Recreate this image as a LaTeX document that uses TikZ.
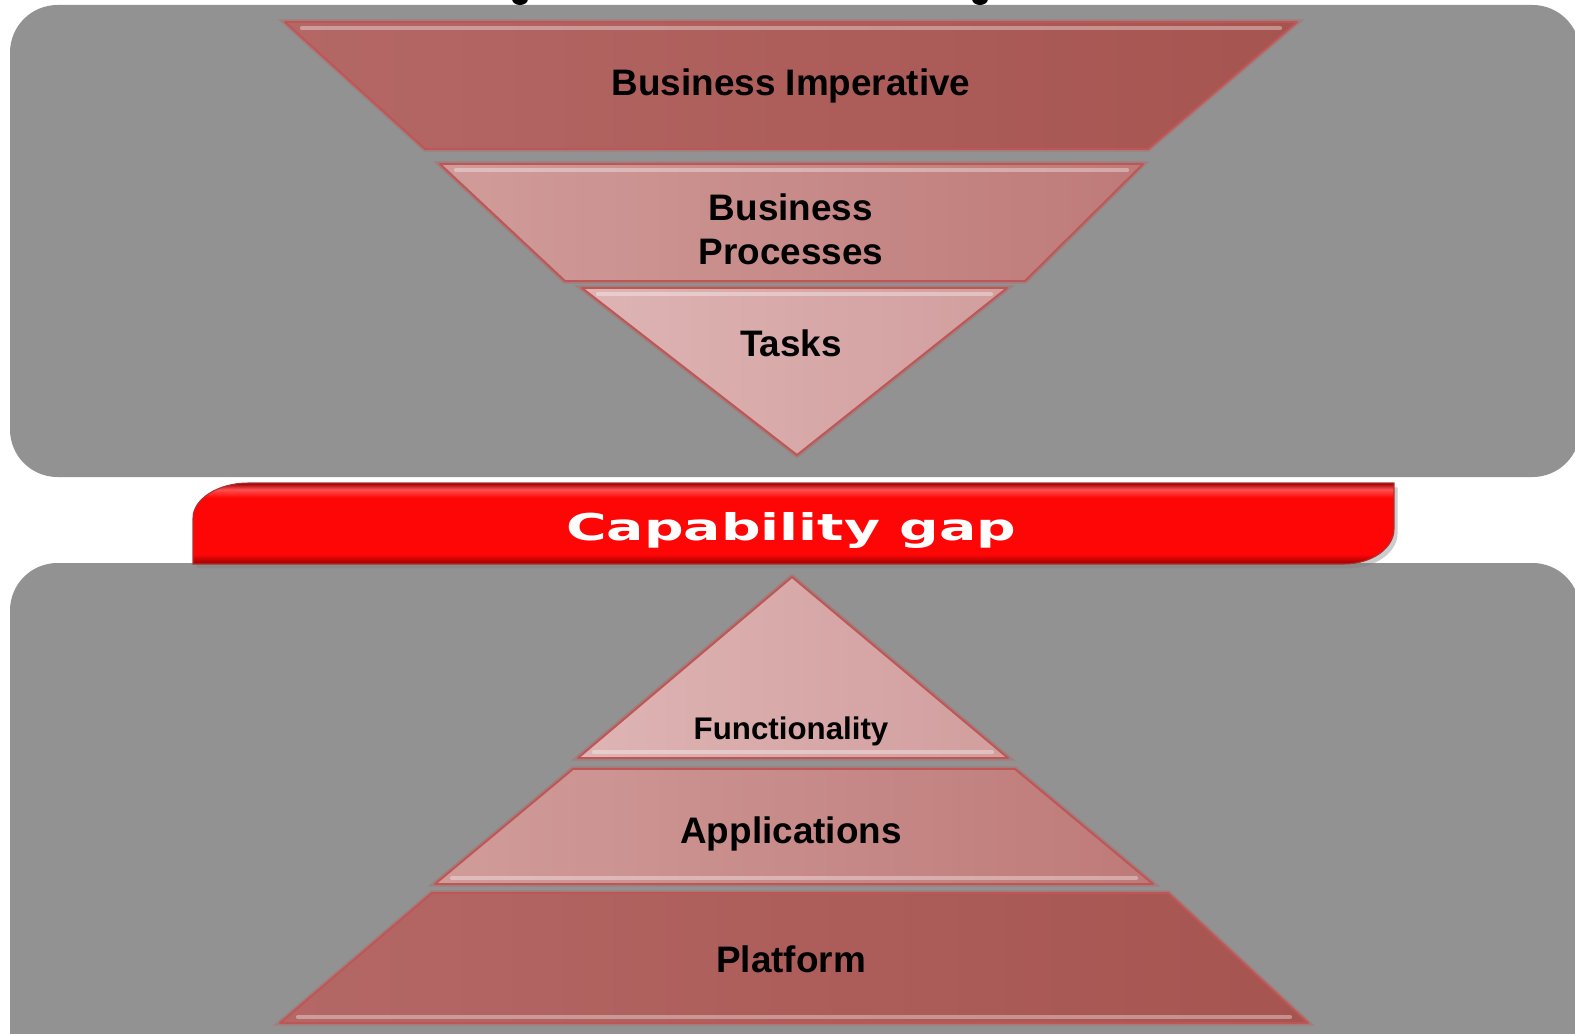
\documentclass[tikz,border=0pt]{standalone}
\usepackage{fontspec}
\setmainfont{Liberation Sans}
\newfontfamily\gapfont{DejaVu Sans}
\usetikzlibrary{calc,positioning,shadows}
\definecolor{panelGrey}{RGB}{146,146,146}
\definecolor{layerDark}{RGB}{180,104,102}
\definecolor{layerDarkR}{RGB}{166,84,80}
\definecolor{layerMid}{RGB}{208,156,154}
\definecolor{layerMidR}{RGB}{190,122,120}
\definecolor{layerLight}{RGB}{222,180,180}
\definecolor{layerLightR}{RGB}{210,158,158}
\definecolor{layerEdge}{RGB}{190,86,86}
\definecolor{gapRed}{RGB}{255,6,6}
\definecolor{gapLight}{RGB}{255,80,80}
\definecolor{gapDark}{RGB}{150,0,0}
\pgfdeclareverticalshading{gapshade}{100bp}{color(0bp)=(gapDark); color(25bp)=(gapDark); color(31bp)=(gapRed); color(66bp)=(gapRed); color(71bp)=(gapLight); color(75bp)=(gapDark); color(100bp)=(gapDark)}

\tikzset{
  panel/.style={fill=panelGrey,rounded corners=27pt},
  layer/.style={draw=layerEdge,line width=1.1pt,line join=round,
    preaction={draw=layerEdge,opacity=.35,line width=3pt}},
  hilite/.style={draw=white,opacity=.35,line width=2.4pt,line cap=round},
  lbl/.style={font=\bfseries\fontsize{21}{25}\selectfont,align=center,text=black,inner sep=0pt},
}

\begin{document}
\begin{tikzpicture}[x=0.02cm,y=-0.02cm]
\useasboundingbox (0,0) rectangle (1575,1034);
% the two grey panels
\fill[panel] (10,5) rectangle (1580,477);
\fill[panel] (10,563) rectangle (1580,1120);
% descenders of the heading above
\fill (520,-1) ellipse [x radius=8, y radius=6];
\fill (980,-1) ellipse [x radius=8, y radius=6];

% inverted pyramid
\shade[layer,left color=layerDark,right color=layerDarkR] (285,22) -- (1297,22) -- (1148,149) -- (425,149) -- cycle;
\draw[hilite] (302,28) -- (1280,28);
\shade[layer,left color=layerMid,right color=layerMidR] (440,164) -- (1143,164) -- (1025,281) -- (565,281) -- cycle;
\draw[hilite] (456,170) -- (1127,170);
\shade[layer,left color=layerLight,right color=layerLightR] (582,288) -- (1007,288) -- (797,455) -- cycle;
\draw[hilite] (598,294) -- (991,294);

\node[lbl] (imperative) at (791,86) {Business Imperative};
\node[lbl] (processes) at (791,229) {Business\\Processes};
\node[lbl] (tasks) at (791,343) {Tasks};

% capability gap bar
\path[shade,shading=gapshade,draw=gapDark!80,line width=.6pt,
  drop shadow={shadow xshift=2pt,shadow yshift=-2.5pt,opacity=.4}]
  (193,564) -- (193,518) .. controls (193,499) and (218,483) .. (248,483) -- (1394,483)
  -- (1394,529) .. controls (1394,548) and (1372,564) .. (1344,564) -- cycle;
\node[text=white,font=\gapfont\bfseries\fontsize{21}{23}\selectfont,anchor=base,inner sep=0pt]
  (gap) at (791,540) {\scalebox{1.5}[1]{Capability gap}};

% upright pyramid
\shade[layer,left color=layerLight,right color=layerLightR] (792,577) -- (1008,758) -- (578,758) -- cycle;
\draw[hilite] (594,752) -- (992,752);
\shade[layer,left color=layerMid,right color=layerMidR] (573,769) -- (1015,769) -- (1153,884) -- (435,884) -- cycle;
\draw[hilite] (452,878) -- (1136,878);
\shade[layer,left color=layerDark,right color=layerDarkR] (432,893) -- (1168,893) -- (1308,1023) -- (280,1023) -- cycle;
\draw[hilite] (298,1017) -- (1290,1017);

\node[lbl,font=\bfseries\fontsize{17.8}{21}\selectfont] (functionality) at (791,731) {Functionality};
\node[lbl] (applications) at (791,834) {Applications};
\node[lbl] (platform) at (791,959) {Platform};
\end{tikzpicture}
\end{document}
